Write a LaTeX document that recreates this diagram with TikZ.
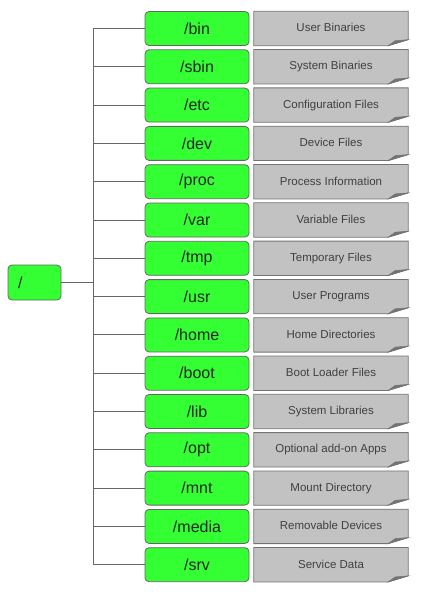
\documentclass[tikz,border=0pt]{standalone}
\usepackage{fontspec}
\setmainfont{Liberation Sans}
\usepackage{tikz}
\usetikzlibrary{backgrounds}
\definecolor{dirgreen}{RGB}{51,255,51}
\definecolor{pagegray}{RGB}{194,194,194}

\begin{document}
\begin{tikzpicture}[x=1pt, y=-1pt,
        dirbox/.style={draw=black!60, fill=dirgreen, rounded corners=4pt, line width=0.8pt,
            minimum width=104pt, minimum height=34pt, inner sep=0pt,
            font=\fontsize{16}{18}\selectfont, text=black!85},
        descbox/.style={minimum width=154pt, minimum height=34pt, inner sep=0pt,
            font=\fontsize{11.5}{13}\selectfont, text=black!75},
        tree/.style={draw=black!60, line width=0.9pt}]
    \useasboundingbox (0,0) rectangle (430,596);

    % Root directory
    \node (root) [dirbox, minimum width=53pt, minimum height=35pt, text width=33pt,
        align=left, inner xsep=10pt] at (34.5,282.5) {/};
    \coordinate (j) at (93,282.5);
    \draw [tree] (root) -- (j);

    % Directories under the root
    \foreach \dir/\desc [count=\i from 0] in {bin/User Binaries, sbin/System Binaries,
        etc/Configuration Files, dev/Device Files, proc/Process Information,
        var/Variable Files, tmp/Temporary Files, usr/User Programs,
        home/Home Directories, boot/Boot Loader Files, lib/System Libraries,
        opt/Optional add-on Apps, mnt/Mount Directory, media/Removable Devices,
        srv/Service Data}
    {
        \node (g\i) [dirbox] at (197,{28.5+38.3*\i}) {/\dir};
        \node (d\i) [descbox] at (331,{28.5+38.3*\i}) {\raisebox{1.5pt}{\desc}};
        \coordinate (t\i) at (93,{28.5+38.3*\i});
        \draw [tree] (t\i) -- (g\i);

        % Page with a folded corner
        \begin{pgfonlayer}{background}
            \filldraw [fill=pagegray, draw=black!55, line width=0.8pt]
                (d\i.north west) -- (d\i.north east) -- ([yshift=6pt]d\i.south east)
                -- ([xshift=-20pt]d\i.south east) -- (d\i.south west) -- cycle;
            \filldraw [fill=black!55, draw=black!55, line width=0.5pt]
                ([xshift=-20pt]d\i.south east) -- ([xshift=-13pt,yshift=5pt]d\i.south east)
                -- ([yshift=6pt]d\i.south east) -- cycle;
        \end{pgfonlayer}
    }
    \draw [tree] (t0) -- (t14);
\end{tikzpicture}
\end{document}
